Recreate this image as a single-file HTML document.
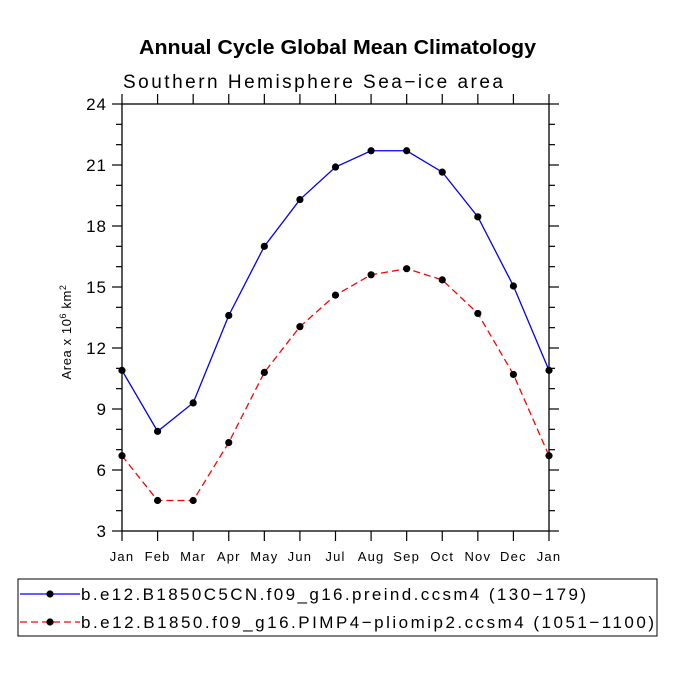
<!DOCTYPE html>
<html><head><meta charset="utf-8"><style>body{margin:0;background:#fff}svg{display:block}text{font-family:"Liberation Sans",sans-serif}</style></head>
<body>
<svg id="c" width="675" height="675" viewBox="0 0 675 675">
<text x="139" y="54" font-size="20" font-weight="bold" textLength="397" lengthAdjust="spacingAndGlyphs">Annual Cycle Global Mean Climatology</text>
<text x="123" y="88" font-size="19" textLength="380" lengthAdjust="spacing">Southern Hemisphere Sea−ice area</text>
<text transform="translate(71,332) rotate(-90)" text-anchor="middle" font-size="13" letter-spacing="0.6">Area x 10<tspan dy="-5" font-size="9">6</tspan><tspan dy="5"> km</tspan><tspan dy="-5" font-size="9">2</tspan></text>
<g id="axes"></g><g id="series"></g>
<rect x="18" y="579" width="639" height="57" fill="none" stroke="#000"/>
<g><line x1="20" y1="594" x2="80" y2="594" stroke="#00f" stroke-width="1.3"/><circle cx="50" cy="594" r="3.6"/><text x="81" y="600" font-size="17" textLength="505" lengthAdjust="spacing">b.e12.B1850C5CN.f09_g16.preind.ccsm4 (130−179)</text></g>
<g><line x1="20" y1="622" x2="80" y2="622" stroke="#f00" stroke-width="1.3" stroke-dasharray="7,4"/><circle cx="50" cy="622" r="3.6"/><text x="81" y="628" font-size="17" textLength="573" lengthAdjust="spacing">b.e12.B1850.f09_g16.PIMP4−pliomip2.ccsm4 (1051−1100)</text></g>
</svg>
<script>
const months=["Jan","Feb","Mar","Apr","May","Jun","Jul","Aug","Sep","Oct","Nov","Dec","Jan"];
const preind=[10.9,7.9,9.3,13.6,17.0,19.3,20.9,21.7,21.7,20.65,18.45,15.05,10.9];
const pliomip=[6.7,4.5,4.5,7.35,10.8,13.05,14.6,15.6,15.9,15.35,13.7,10.7,6.7];
const yTicks=[3,6,9,12,15,18,21,24];
const NS="http://www.w3.org/2000/svg";
const L=122,R=549,T=104,B=531,ymin=3,ymax=24;
const xs=i=>L+i*(R-L)/(months.length-1);
const ys=v=>B-(v-ymin)/(ymax-ymin)*(B-T);
function mk(t,a,p){const e=document.createElementNS(NS,t);for(const k in a)e.setAttribute(k,a[k]);p.appendChild(e);return e;}
const ax=document.getElementById('axes');
const frame=mk('rect',{x:L,y:T,width:R-L,height:B-T,fill:'none',stroke:'#000','stroke-width':1.3},ax);


for(let v=ymin;v<=ymax;v++){const maj=yTicks.includes(v),len=maj?10:6;
mk('line',{x1:L-len,x2:L,y1:ys(v),y2:ys(v),stroke:'#000','stroke-width':1.2},ax);
mk('line',{x1:R,x2:R+len,y1:ys(v),y2:ys(v),stroke:'#000','stroke-width':1.2},ax);}
yTicks.forEach(v=>{const t=mk('text',{x:L-15,y:ys(v)+6,'text-anchor':'end','font-size':17,'letter-spacing':1},ax);t.textContent=v;

});
months.forEach((m,i)=>{const x=xs(i);
mk('line',{x1:x,x2:x,y1:B,y2:B+10,stroke:'#000','stroke-width':1.2},ax);
mk('line',{x1:x,x2:x,y1:T-10,y2:T,stroke:'#000','stroke-width':1.2},ax);
const t=mk('text',{x:x,y:B+30,'text-anchor':'middle','font-size':13,'letter-spacing':1.2},ax);t.textContent=m;

});
const sg=document.getElementById('series');
function series(vals,col,dash,name){const g=mk('g',{},sg);


mk('polyline',{points:vals.map((v,i)=>xs(i)+','+ys(v)).join(' '),fill:'none',stroke:col,'stroke-width':1.3,'stroke-dasharray':dash},g);
vals.forEach((v,i)=>{const c=mk('circle',{cx:xs(i),cy:ys(v),r:3.6},g);

});}
series(preind,'#00f','none','series-preind');
series(pliomip,'#f00','7,4','series-pliomip2');
</script>
</body></html>
